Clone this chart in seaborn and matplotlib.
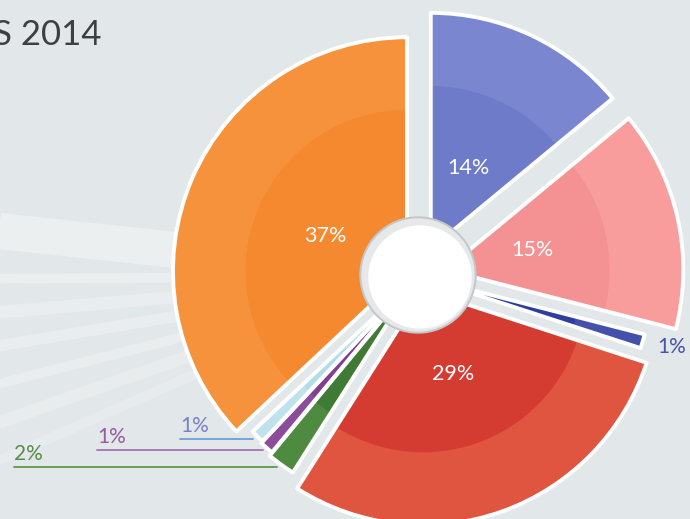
import numpy as np
import matplotlib.pyplot as plt
import seaborn as sns

# data
segments = ['orange', 'light blue', 'purple', 'green', 'red', 'dark blue', 'pink', 'blue']
shares = [37, 1, 1, 2, 29, 1, 15, 14]
outer_colors = ['#f7923c', '#bfe2ec', '#8d4c9b', '#4f8a41', '#e0553f', '#4351ab', '#f89c9c', '#7a87d0']
inner_colors = ['#f4892f', '#b3dce9', '#803f8f', '#3f7b34', '#d43b31', '#2e3e9d', '#f49193', '#6d7bc8']
title = 'S 2014'

# styling (pixels, figure is 690x519 and axes use pixel units)
radii = [234, 222, 224, 228, 235, 228, 238, 236]
explode = [12, 5, 5, 5, 15, 6, 28, 30]
cx, cy = 418, 243

sns.set_theme(style='white')
plt.rcParams['font.family'] = ['Lato', 'DejaVu Sans']

fig = plt.figure(figsize=(6.9, 5.19), dpi=100)
fig.patch.set_facecolor('#e2e7e9')
ax = fig.add_axes([0, 0, 1, 1])
ax.set_facecolor('#e2e7e9')

# faint white swooshes in the background
for y0, lw, a in [(290, 26, 0.35), (240, 7, 0.3), (205, 9, 0.28), (170, 8, 0.28),
                  (130, 7, 0.25), (90, 9, 0.22), (50, 7, 0.2)]:
    ax.plot([-20, cx], [y0, cy], color='white', lw=lw, alpha=a,
            solid_capstyle='butt', zorder=0.5)

common = dict(center=(cx, cy), startangle=90, counterclock=True, explode=explode)

outer, _ = ax.pie(shares, radius=235, colors=outer_colors,
                  wedgeprops=dict(linewidth=0), **common)
inner, _ = ax.pie(shares, radius=235, colors=inner_colors,
                  wedgeprops=dict(linewidth=0), **common)
rim, _, pct = ax.pie(shares, radius=235,
                     autopct=lambda p: f'{p:.0f}%' if p > 5 else '',
                     pctdistance=0.38,
                     textprops=dict(color='white', fontsize=15.5),
                     wedgeprops=dict(facecolor='none', edgecolor='white',
                                     linewidth=2.8, joinstyle='round'),
                     **common)
for w_o, w_i, w_r, r in zip(outer, inner, rim, radii):
    w_o.set_radius(r)
    w_i.set_radius(r * 0.69)
    w_r.set_radius(r)
for t in pct:
    t.set_zorder(5)

# centre hole
ax.add_patch(plt.Circle((cx, cy + 1), 58, color='#c4c7c9', zorder=3))
ax.add_patch(plt.Circle((cx, cy + 1), 56, color='#e6e8e9', zorder=3.1))
ax.add_patch(plt.Circle((cx + 2, cy - 1), 51, color='white', zorder=3.2))


def tip(w):
    th = np.deg2rad((w.theta1 + w.theta2) / 2)
    return w.center[0] + w.r * np.cos(th), w.center[1] + w.r * np.sin(th)


# small outside labels
x, y = tip(rim[5])
ax.text(x + 15, y - 6, f'{shares[5]}%', color='#4654a6', fontsize=15,
        ha='left', va='center')

side = [(1, 180, '#6b9fd8', '#7a80c6'),
        (2, 97, '#a574b3', '#9a5aa0'),
        (3, 14, '#5f9a4f', '#5a8a4a')]
for i, x0, line_c, text_c in side:
    x, y = tip(rim[i])
    ax.plot([x0, x - 4], [y - 2, y - 2], color=line_c, lw=1.3, zorder=2)
    ax.text(x0, y + 1, f'{shares[i]}%', color=text_c, fontsize=15,
            ha='left', va='bottom')

ax.text(-7, 484, title, color='#3d3f40', fontsize=25, ha='left', va='center')

ax.set_xlim(0, 690)
ax.set_ylim(0, 519)
ax.set_aspect('equal')
ax.axis('off')

fig.savefig('out.png', dpi=100, facecolor=fig.get_facecolor())
